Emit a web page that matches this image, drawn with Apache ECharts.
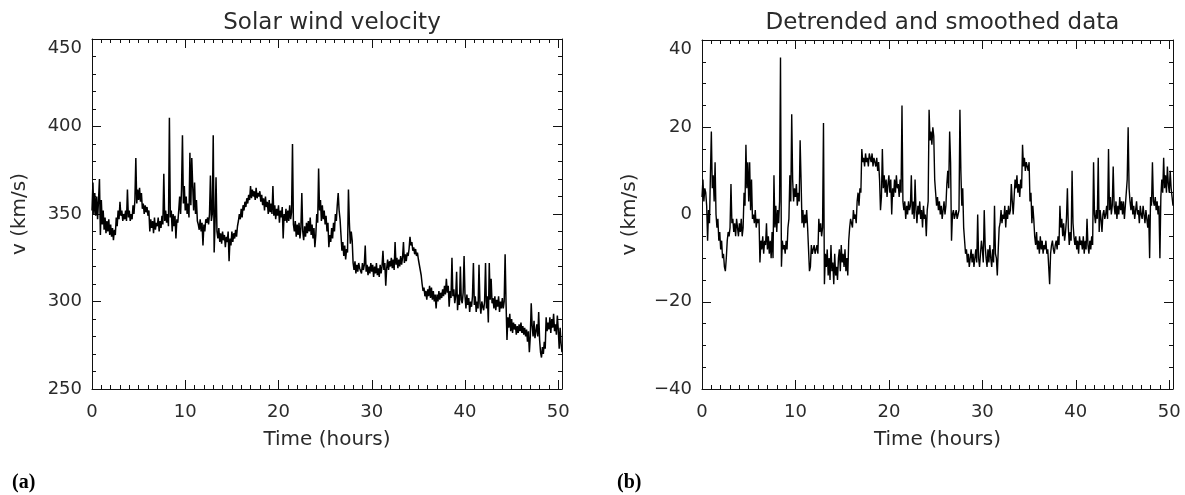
<!DOCTYPE html>
<html>
<head>
<meta charset="utf-8">
<script src="https://cdn.jsdelivr.net/npm/echarts@6/dist/echarts.min.js"></script>
<style>
  html, body { margin: 0; padding: 0; background: #fff; }
  #chart { width: 1185px; height: 495px; }
</style>
</head>
<body>
<div id="chart"></div>
<script>
// ---------------- DATA ----------------
const STEP_HOURS = 0.1;               // sampling step of both series (hours)
const xTickLabels = [0, 10, 20, 30, 40, 50];
const leftYTicks = [250, 300, 350, 400, 450];
const rightYTicks = [-40, -20, 0, 20, 40];
const titles = ['Solar wind velocity', 'Detrended and smoothed data'];
const xAxisName = 'Time (hours)';
const yAxisName = 'v (km/s)';
const panelTags = ['(a)', '(b)'];

// (a) solar wind velocity, km/s, one row per hour (10 samples per hour)
const solarWindKms = [
  352,368,350,362,349,360,347,358,370,338,
  358,344,352,341,348,339,346,340,347,338,
  344,337,342,335,341,338,348,343,352,347,
  357,349,352,346,350,347,352,346,364,348,
  352,346,350,347,355,350,358,382,356,364,
  358,365,357,362,353,356,350,355,351,354,
  349,352,340,347,342,346,339,348,341,345,
  343,348,340,346,342,349,344,373,346,352,
  345,350,343,405,348,352,340,350,343,349,
  336,347,345,352,360,350,364,395,356,366,
  352,360,350,356,348,385,355,382,366,352,
  368,350,358,346,344,341,347,340,345,332,
  344,340,347,345,348,344,350,372,346,350,
  395,328,346,371,340,336,342,334,339,333,
  340,335,338,331,337,334,340,323,336,332,
  340,334,339,336,341,337,343,346,350,347,
  353,348,355,352,357,354,359,356,361,358,
  366,359,364,360,363,358,365,359,362,360,
  363,357,361,355,359,352,360,354,357,350,
  358,351,356,350,366,349,355,347,353,349,
  355,345,352,348,354,336,350,346,353,345,
  352,346,355,347,351,390,344,340,346,337,
  344,338,345,336,342,362,340,335,343,337,
  345,339,346,340,348,338,344,336,342,331,
  338,350,345,376,352,358,346,355,347,352,
  344,349,340,345,331,338,334,342,336,345,
  340,350,346,355,362,352,347,338,329,334,
  326,332,324,330,328,364,345,333,340,335,
  322,318,323,316,321,317,322,319,320,316,
  322,318,321,332,317,321,315,320,316,322,
  317,321,314,320,316,322,315,319,314,321,
  316,320,329,318,322,309,319,324,318,323,
  320,325,319,324,318,334,321,325,319,324,
  320,326,321,325,334,322,327,323,328,326,
  330,337,332,334,329,331,327,330,326,328,
  324,321,318,315,310,306,308,303,306,301,
  307,303,309,302,308,301,306,300,304,296,
  304,300,306,301,305,302,307,303,309,304,
  313,305,309,297,306,302,325,303,307,299,
  303,317,295,304,298,320,301,299,305,326,
  303,296,304,298,302,294,300,297,303,322,
  298,303,294,300,296,321,299,293,300,297,
  295,300,322,296,303,288,322,301,313,299,
  302,296,303,295,301,297,303,294,300,296,
  302,296,300,327,299,278,291,285,293,283,
  290,282,288,284,287,281,286,282,287,283,
  288,282,286,281,285,280,284,277,283,271,
  280,299,286,280,289,279,283,287,280,294,
  278,271,268,274,270,277,273,291,283,288,
  284,291,282,290,285,293,283,287,281,292,
  284,273,285,276,271
];

// (b) detrended and smoothed velocity, km/s, one row per hour
const detrendedKms = [
  4,8,3,6,5,2,-6,1,-2,9,
  19,6,9,3,12,0,-3,-1,-6,-4,
  -8,-6,-10,-9,-12,-13,-10,-6,-4,-5,
  -3,7,-2,-1,-4,-2,-5,-1,-3,-5,
  -2,-4,-1,-5,-3,5,2,16,6,12,
  3,12,1,8,-1,0,-2,1,-3,-1,
  -2,-1,-11,-6,-8,-5,-9,-6,-7,-2,
  -8,-5,-9,-6,-10,-4,-10,9,-3,2,
  -4,1,-2,3,36,-12,-6,-8,-7,-9,
  -6,-8,-3,-1,9,3,23,8,3,6,
  4,7,2,5,3,17,8,-2,1,-3,
  0,-2,1,-3,-8,-13,-12,-7,-9,-8,
  -7,-9,-8,-7,-9,-1,-4,-2,-5,-3,
  21,-16,-9,-12,-8,-14,-10,-15,-7,-13,
  -11,-16,-9,-14,-12,-15,-10,-8,-13,-7,
  -11,-9,-12,-8,-13,-10,-14,-6,-3,-1,
  -2,-3,1,-1,0,-2,3,5,2,6,
  5,15,12,13,11,14,12,13,11,14,
  13,12,14,11,13,12,11,13,10,12,
  8,1,4,15,6,9,5,8,4,7,
  9,5,8,0,6,4,8,5,9,6,
  7,4,8,5,25,3,1,3,-1,2,
  0,3,1,2,9,0,3,-1,8,1,
  -2,2,0,3,-1,1,-3,2,-1,0,
  -5,1,3,24,17,19,16,20,18,8,
  5,2,4,1,3,0,2,-1,1,3,
  0,2,7,10,6,19,12,-6,0,1,
  -1,0,1,-1,0,1,24,10,2,6,
  -3,-6,-9,-8,-11,-9,-12,-10,-8,-11,
  -9,-12,-10,-8,-11,0,-10,-12,-9,-6,
  -8,-11,1,-7,-10,-12,-8,-11,-7,-10,
  -12,-8,-11,2,-9,-10,-14,-8,-3,-2,
  1,-2,0,-1,2,-3,1,-1,2,0,
  1,7,3,0,4,8,6,9,5,7,
  4,8,6,16,11,13,10,12,11,10,
  12,3,5,-2,2,-1,-5,-7,-4,-8,
  -6,-9,-5,-8,-6,-9,-7,-8,-6,-9,
  -8,-12,-16,-9,-7,-6,-8,-9,-7,-6,
  -8,-5,-7,2,-3,-1,-5,-2,-6,-4,
  -1,6,-3,-7,-4,-6,10,-2,-5,-7,
  -5,-8,-6,-9,-5,-7,-6,-8,-5,-9,
  -6,-8,-1,-7,-9,-6,-8,-5,-7,12,
  0,-2,1,-1,13,-4,1,-1,-4,0,
  1,-1,0,2,-1,15,1,4,0,2,
  11,2,0,3,-1,2,0,4,1,3,
  0,3,-1,2,5,8,20,6,3,1,
  4,0,2,-1,1,3,0,1,-2,2,
  0,-1,2,0,-2,1,-1,-3,0,-10,
  4,2,12,3,2,4,1,3,0,2,
  -10,4,8,5,13,6,9,5,11,7,
  5,10,6,4,2
];

// ---------------- CHART ----------------
const toPairs = vals => vals.map((v, i) => [+(i * STEP_HOURS).toFixed(2), v]);

const FONT = 'DejaVu Sans';
const INK = '#2a2a2a';
const X_MAX = 50.4;

const grids = [
  { left: 92, top: 39, width: 470, height: 350 },
  { left: 702, top: 40, width: 471, height: 349 }
];

function xAx(g, pos) {
  const bottom = pos === 'bottom';
  return {
    type: 'value', gridIndex: g, position: pos,
    min: 0, max: X_MAX, interval: 10,
    name: bottom ? xAxisName : '', nameLocation: 'middle', nameGap: 41,
    nameTextStyle: { fontFamily: FONT, fontSize: 20, color: INK },
    axisLine: { show: true, onZero: false, lineStyle: { color: '#111', width: 1 } },
    axisTick: { show: true, inside: true, length: 9, lineStyle: { color: '#111', width: 1 } },
    minorTick: { show: true, splitNumber: 10, length: 4, lineStyle: { color: '#111', width: 1 } },
    splitLine: { show: false },
    axisLabel: {
      show: bottom, margin: 14, fontFamily: FONT, fontSize: 18, color: INK,
      formatter: v => (xTickLabels.indexOf(v) >= 0 ? String(v) : '')
    }
  };
}

function yAx(g, pos, ticks, minorSplit) {
  const left = pos === 'left';
  const mn = ticks[0], mx = ticks[ticks.length - 1];
  return {
    type: 'value', gridIndex: g, position: pos,
    min: mn, max: mx, interval: ticks[1] - ticks[0],
    name: left ? yAxisName : '', nameLocation: 'middle', nameGap: 62,
    nameTextStyle: { fontFamily: FONT, fontSize: 20, color: INK },
    axisLine: { show: true, onZero: false, lineStyle: { color: '#111', width: 1 } },
    axisTick: { show: true, inside: true, length: 9, lineStyle: { color: '#111', width: 1 } },
    minorTick: { show: true, splitNumber: minorSplit, length: 4, lineStyle: { color: '#111', width: 1 } },
    splitLine: { show: false },
    axisLabel: {
      show: left, margin: 10, fontFamily: FONT, fontSize: 18, color: INK,
      verticalAlignMaxLabel: 'top',
      formatter: v => String(v).replace('-', '\u2212')
    }
  };
}

const option = {
  animation: false,
  backgroundColor: '#ffffff',
  title: [
    { text: titles[0], left: grids[0].left + grids[0].width / 2, top: 7, textAlign: 'center',
      textStyle: { fontFamily: FONT, fontSize: 23, fontWeight: 'normal', color: INK } },
    { text: titles[1], left: grids[1].left + grids[1].width / 2, top: 7, textAlign: 'center',
      textStyle: { fontFamily: FONT, fontSize: 23, fontWeight: 'normal', color: INK } },
    { text: panelTags[0], left: 7, top: 468,
      textStyle: { fontFamily: 'Liberation Serif', fontSize: 20, fontWeight: 'bold', color: '#000' } },
    { text: panelTags[1], left: 612, top: 468,
      textStyle: { fontFamily: 'Liberation Serif', fontSize: 20, fontWeight: 'bold', color: '#000' } }
  ],
  grid: grids,
  xAxis: [xAx(0, 'bottom'), xAx(0, 'top'), xAx(1, 'bottom'), xAx(1, 'top')],
  yAxis: [yAx(0, 'left', leftYTicks, 5), yAx(0, 'right', leftYTicks, 5),
          yAx(1, 'left', rightYTicks, 4), yAx(1, 'right', rightYTicks, 4)],
  series: [
    { type: 'line', xAxisIndex: 0, yAxisIndex: 0, data: toPairs(solarWindKms),
      showSymbol: false, symbol: 'none', sampling: null,
      lineStyle: { color: '#000', width: 1.5 }, silent: true },
    { type: 'line', xAxisIndex: 2, yAxisIndex: 2, data: toPairs(detrendedKms),
      showSymbol: false, symbol: 'none', sampling: null,
      lineStyle: { color: '#000', width: 1.4 }, silent: true }
  ]
};

const chart = echarts.init(document.getElementById('chart'), null, { renderer: 'canvas' });
chart.setOption(option);
</script>
</body>
</html>
